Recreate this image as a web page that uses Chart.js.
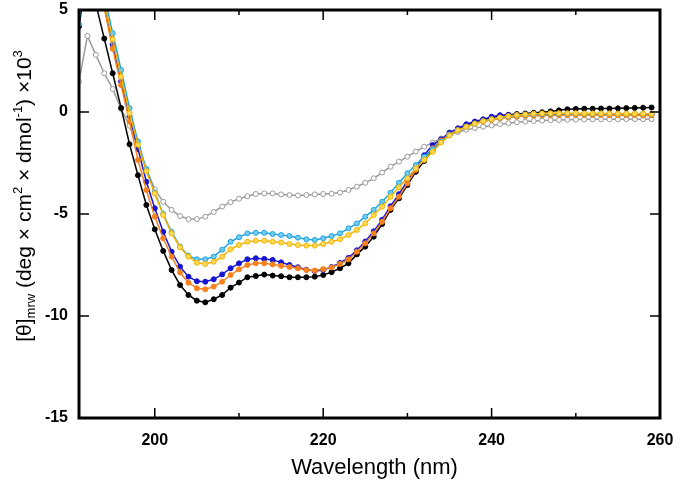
<!DOCTYPE html>
<html>
<head>
<meta charset="utf-8">
<script src="https://cdn.jsdelivr.net/npm/chart.js@4.4.0/dist/chart.umd.min.js"></script>
<style>
    body { margin: 0; background: #fff; }
    canvas { display: block; }
</style>
</head>
<body>
<canvas id="cdChart" width="679" height="486"></canvas>
<script>
// Wavelength (nm)
const wavelengths = [
    191, 192, 193, 194, 195, 196, 197, 198, 199, 200,
    201, 202, 203, 204, 205, 206, 207, 208, 209, 210,
    211, 212, 213, 214, 215, 216, 217, 218, 219, 220,
    221, 222, 223, 224, 225, 226, 227, 228, 229, 230,
    231, 232, 233, 234, 235, 236, 237, 238, 239, 240,
    241, 242, 243, 244, 245, 246, 247, 248, 249, 250,
    251, 252, 253, 254, 255, 256, 257, 258, 259
];

// [θ]mrw x10^3, one array per sample
const blackSeries = [
    4.2, 7.0, 5.3, 3.6, 1.9, 0.2, -1.58, -3.1, -4.56, -5.75,
    -6.81, -7.75, -8.48, -8.97, -9.25, -9.33, -9.18, -8.97, -8.61, -8.36,
    -8.1, -8.04, -7.97, -8.02, -8.05, -8.1, -8.1, -8.1, -8.07, -7.99,
    -7.85, -7.66, -7.42, -6.98, -6.6, -6.11, -5.49, -4.8, -4.23, -3.58,
    -2.93, -2.4, -1.86, -1.45, -1.1, -0.85, -0.65, -0.5, -0.38, -0.28,
    -0.2, -0.14, -0.1, -0.07, -0.04, -0.01, 0.03, 0.08, 0.13, 0.15,
    0.16, 0.16, 0.17, 0.17, 0.18, 0.19, 0.2, 0.21, 0.22
];
const orangeSeries = [
    6.0, 8.6, 6.9, 5.1, 3.1, 1.32, -0.47, -2.35, -3.82, -5.13,
    -6.19, -7.09, -7.87, -8.37, -8.64, -8.69, -8.56, -8.32, -7.99, -7.71,
    -7.5, -7.42, -7.42, -7.47, -7.54, -7.6, -7.66, -7.75, -7.77, -7.7,
    -7.62, -7.45, -7.22, -6.85, -6.44, -5.95, -5.38, -4.72, -4.15, -3.5,
    -2.84, -2.27, -1.78, -1.4, -1.1, -0.88, -0.72, -0.58, -0.47, -0.39,
    -0.32, -0.27, -0.23, -0.2, -0.18, -0.17, -0.16, -0.16, -0.15, -0.15,
    -0.15, -0.15, -0.15, -0.16, -0.16, -0.16, -0.16, -0.17, -0.17
];
const blueSeries = [
    6.3, 8.8, 7.0, 5.2, 3.3, 1.5, -0.2, -1.81, -3.42, -4.72,
    -5.87, -6.85, -7.58, -8.07, -8.3, -8.32, -8.2, -7.96, -7.66, -7.42,
    -7.22, -7.17, -7.2, -7.25, -7.37, -7.5, -7.61, -7.73, -7.79, -7.74,
    -7.6, -7.4, -7.15, -6.78, -6.35, -5.85, -5.28, -4.62, -4.03, -3.38,
    -2.72, -2.12, -1.62, -1.34, -1.01, -0.8, -0.6, -0.47, -0.36, -0.23,
    -0.16, -0.15, -0.13, -0.12, -0.11, -0.11, -0.1, -0.1, -0.1, -0.1,
    -0.1, -0.1, -0.1, -0.1, -0.1, -0.11, -0.11, -0.11, -0.11
];
const yellowSeries = [
    6.6, 9.0, 7.2, 5.4, 3.56, 1.73, -0.06, -1.6, -2.9, -3.99,
    -5.05, -5.95, -6.63, -7.09, -7.39, -7.45, -7.34, -7.09, -6.73, -6.52,
    -6.36, -6.31, -6.31, -6.36, -6.4, -6.47, -6.52, -6.55, -6.55, -6.47,
    -6.36, -6.24, -6.03, -5.78, -5.46, -5.05, -4.64, -4.15, -3.69, -3.25,
    -2.76, -2.35, -1.95, -1.5, -1.15, -0.9, -0.72, -0.57, -0.45, -0.35,
    -0.27, -0.2, -0.15, -0.12, -0.09, -0.07, -0.06, -0.06, -0.06, -0.06,
    -0.07, -0.07, -0.07, -0.07, -0.08, -0.08, -0.08, -0.08, -0.09
];
const cyanSeries = [
    4.3, 9.3, 7.5, 5.7, 3.86, 2.06, 0.18, -1.45, -2.8, -3.95,
    -5.0, -5.88, -6.6, -7.05, -7.22, -7.22, -7.09, -6.75, -6.36, -6.14,
    -5.95, -5.92, -5.92, -5.98, -6.03, -6.08, -6.16, -6.24, -6.27, -6.19,
    -6.08, -5.95, -5.7, -5.46, -5.13, -4.8, -4.4, -3.96, -3.47, -3.0,
    -2.6, -2.19, -1.83, -1.45, -1.13, -0.9, -0.72, -0.57, -0.45, -0.36,
    -0.28, -0.22, -0.17, -0.14, -0.12, -0.1, -0.09, -0.09, -0.08, -0.08,
    -0.08, -0.08, -0.08, -0.08, -0.09, -0.09, -0.09, -0.09, -0.09
];
const graySeries = [
    1.5, 3.73, 2.8, 1.9, 1.13, 0.15, -0.67, -1.75, -2.8, -3.79,
    -4.4, -4.8, -5.1, -5.25, -5.25, -5.13, -4.9, -4.64, -4.42, -4.25,
    -4.13, -4.02, -3.99, -3.99, -4.04, -4.07, -4.09, -4.07, -4.04, -4.02,
    -4.0, -3.95, -3.82, -3.66, -3.47, -3.25, -2.97, -2.68, -2.43, -2.19,
    -1.94, -1.7, -1.5, -1.3, -1.12, -0.98, -0.87, -0.79, -0.72, -0.66,
    -0.6, -0.55, -0.5, -0.47, -0.44, -0.42, -0.4, -0.39, -0.38, -0.37,
    -0.37, -0.36, -0.36, -0.36, -0.36, -0.35, -0.35, -0.35, -0.35
];

// Axis ticks
const xMajorTicks = [200, 220, 240, 260];
const xMinorTicks = [210, 230, 250];
const yTicks = [5, 0, -5, -10, -15];

function toPoints(values) {
    return wavelengths.map((w, i) => ({ x: w, y: values[i] }));
}

function makeDataset(values, lineColor, fillColor) {
    return {
        data: toPoints(values),
        borderColor: lineColor,
        backgroundColor: fillColor,
        borderWidth: 1.5,
        pointRadius: 2.5,
        pointBorderWidth: 1,
        pointBorderColor: lineColor,
        pointBackgroundColor: fillColor,
        tension: 0
    };
}

// Frame with inward ticks on every side
const framePlugin = {
    id: 'frame',
    afterDatasetsDraw(chart) {
        const ctx = chart.ctx;
        const area = chart.chartArea;
        const xs = chart.scales.x;
        const ys = chart.scales.y;
        ctx.save();
        ctx.strokeStyle = '#000';
        ctx.lineWidth = 1.5;
        ctx.beginPath();
        const tick = (v, len) => {
            const px = xs.getPixelForValue(v);
            ctx.moveTo(px, area.bottom); ctx.lineTo(px, area.bottom - len);
            ctx.moveTo(px, area.top); ctx.lineTo(px, area.top + len);
        };
        xMajorTicks.forEach(v => tick(v, 10));
        xMinorTicks.forEach(v => tick(v, 5));
        yTicks.forEach(v => {
            const py = ys.getPixelForValue(v);
            ctx.moveTo(area.left, py); ctx.lineTo(area.left + 10, py);
            ctx.moveTo(area.right, py); ctx.lineTo(area.right - 10, py);
        });
        ctx.stroke();
        ctx.lineWidth = 3;
        ctx.strokeRect(area.left, area.top, area.right - area.left, area.bottom - area.top);
        ctx.restore();
    },
    afterDraw(chart) {
        const ctx = chart.ctx;
        const area = chart.chartArea;
        ctx.save();
        ctx.fillStyle = '#000';
        ctx.textBaseline = 'middle';

        // x title
        ctx.font = '22px "Liberation Sans", Arial, sans-serif';
        ctx.textAlign = 'center';
        ctx.fillText('Wavelength (nm)', (area.left + area.right) / 2 + 5, 468);

        // y title, with sub and superscripts
        const big = '21px "Liberation Sans", Arial, sans-serif';
        const small = '13px "Liberation Sans", Arial, sans-serif';
        const parts = [
            { t: '[θ]', f: big, dy: 0 },
            { t: 'mrw', f: small, dy: 6 },
            { t: ' (deg × cm', f: big, dy: 0 },
            { t: '2', f: small, dy: -7 },
            { t: ' × dmol', f: big, dy: 0 },
            { t: '-1', f: small, dy: -7 },
            { t: ') ×10', f: big, dy: 0 },
            { t: '3', f: small, dy: -7 }
        ];
        let total = 0;
        parts.forEach(p => { ctx.font = p.f; p.w = ctx.measureText(p.t).width; total += p.w; });
        ctx.translate(25, 196);
        ctx.rotate(-Math.PI / 2);
        ctx.textAlign = 'left';
        let cx = -total / 2;
        parts.forEach(p => {
            ctx.font = p.f;
            ctx.fillText(p.t, cx, p.dy);
            cx += p.w;
        });
        ctx.restore();
    }
};

const tickFont = { family: '"Liberation Sans", Arial, sans-serif', size: 16, weight: 'bold' };

new Chart(document.getElementById('cdChart').getContext('2d'), {
    type: 'line',
    data: {
        datasets: [
            makeDataset(yellowSeries, '#f5b400', '#ffd95a'),
            makeDataset(cyanSeries, '#1ea3e0', '#74cbf0'),
            makeDataset(orangeSeries, '#f5821f', '#f5821f'),
            makeDataset(blueSeries, '#1414d2', '#1414d2'),
            makeDataset(blackSeries, '#000000', '#000000'),
            makeDataset(graySeries, '#9a9a9a', '#ffffff')
        ]
    },
    options: {
        responsive: false,
        animation: false,
        devicePixelRatio: 1,
        layout: { padding: { top: 10, right: 19, left: 0, bottom: 0 } },
        plugins: {
            legend: { display: false },
            tooltip: { enabled: false }
        },
        scales: {
            x: {
                type: 'linear',
                min: 191,
                max: 260,
                grid: { display: false },
                border: { display: false },
                afterBuildTicks: s => { s.ticks = xMajorTicks.map(v => ({ value: v })); },
                afterFit: s => { s.height = 68; s.paddingLeft = 0; s.paddingRight = 0; },
                ticks: {
                    color: '#000',
                    font: tickFont,
                    padding: 5,
                    maxRotation: 0
                }
            },
            y: {
                type: 'linear',
                min: -15,
                max: 5,
                grid: { display: false },
                border: { display: false },
                afterBuildTicks: s => { s.ticks = yTicks.map(v => ({ value: v })); },
                afterFit: s => { s.width = 79; s.paddingTop = 0; s.paddingBottom = 0; },
                ticks: {
                    color: '#000',
                    font: tickFont,
                    padding: 3
                }
            }
        }
    },
    plugins: [framePlugin]
});
</script>
</body>
</html>
